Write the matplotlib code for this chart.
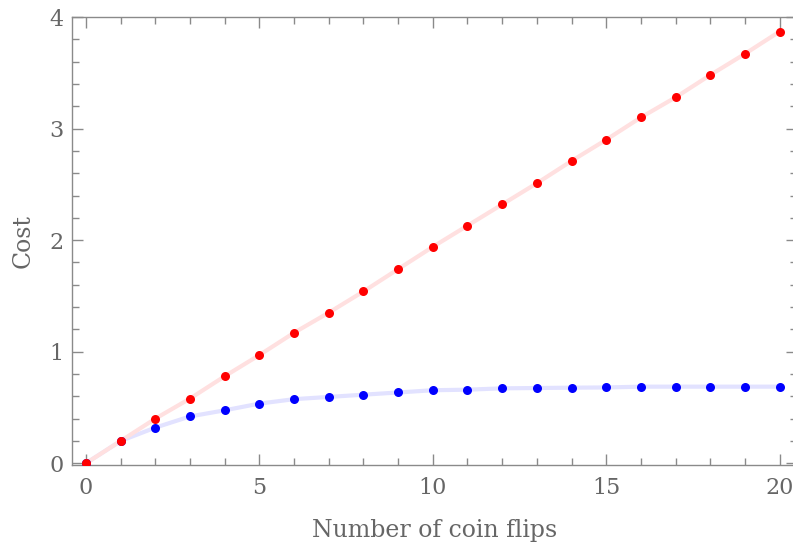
import matplotlib
matplotlib.use('Agg')
import matplotlib.pyplot as plt
from matplotlib.ticker import MultipleLocator

# data
flips = list(range(0, 21))
cost_red = [0.0, 0.20, 0.40, 0.58, 0.78, 0.97, 1.17, 1.35, 1.54, 1.74, 1.94,
            2.13, 2.32, 2.51, 2.71, 2.90, 3.10, 3.28, 3.48, 3.67, 3.87]
cost_blue = [0.0, 0.20, 0.32, 0.42, 0.475, 0.535, 0.575, 0.595, 0.615, 0.635, 0.655,
             0.66, 0.672, 0.675, 0.678, 0.68, 0.687, 0.687, 0.687, 0.687, 0.687]

gray = '#666666'
tick_gray = '#8a8a8a'
plt.rcParams['font.family'] = ['DejaVu Serif']

fig = plt.figure(figsize=(7.93, 5.47), dpi=100)
ax = fig.add_axes([72 / 793, (547 - 465) / 547, (797 - 72) / 793, (465 - 17) / 547])

ax.plot(flips, cost_blue, color='#e2e2ff', lw=3, zorder=1)
ax.plot(flips, cost_red, color='#ffe0e0', lw=3, zorder=1)
ax.plot(flips, cost_blue, 'o', color='#0000ff', ms=6.5, mec='none', zorder=3)
ax.plot(flips, cost_red, 'o', color='#ff0000', ms=6.5, mec='none', zorder=3)

ax.set_xlim(-0.4, 20.5)
ax.set_ylim(-0.015, 4.0)

ax.xaxis.set_major_locator(MultipleLocator(5))
ax.xaxis.set_minor_locator(MultipleLocator(1))
ax.yaxis.set_major_locator(MultipleLocator(1))
ax.yaxis.set_minor_locator(MultipleLocator(0.2))
ax.tick_params(which='both', direction='in', top=True, right=True,
               color=tick_gray, width=1, labelcolor=gray, labelsize=16)
ax.tick_params(axis='x', which='major', length=8, pad=9)
ax.tick_params(axis='y', which='major', length=8, pad=6)
ax.tick_params(which='minor', length=5)
for s in ax.spines.values():
    s.set_color(tick_gray)
    s.set_linewidth(1)

ax.set_xlabel('Number of coin flips', color=gray, fontsize=17, labelpad=14)
ax.set_ylabel('Cost', color=gray, fontsize=17, labelpad=11)

fig.savefig('out.png', dpi=100)
